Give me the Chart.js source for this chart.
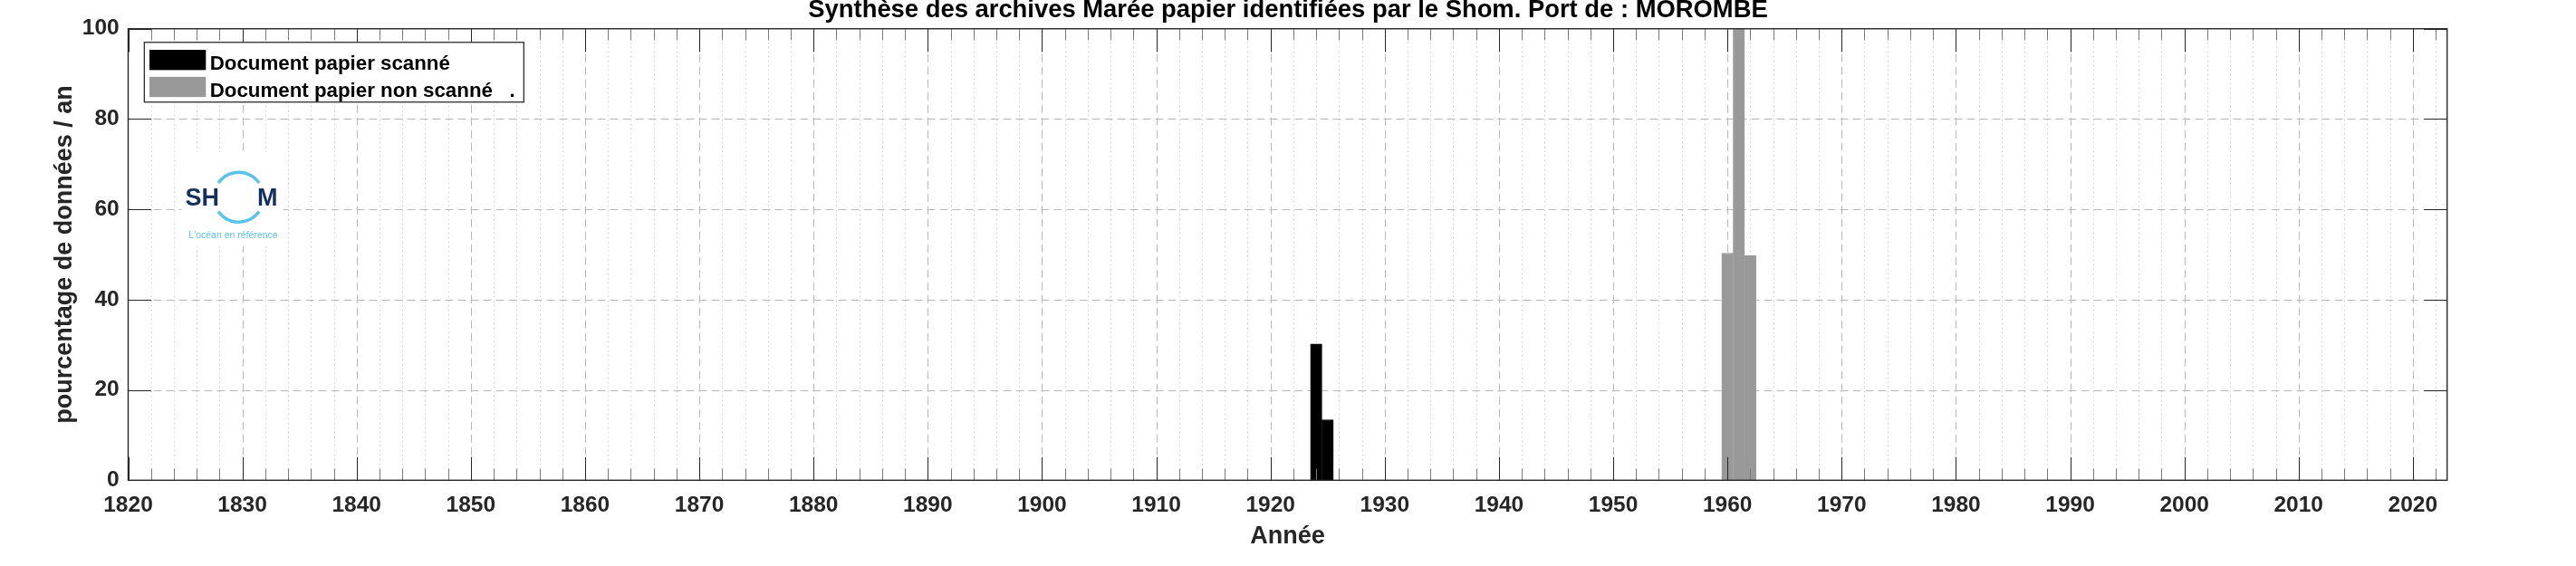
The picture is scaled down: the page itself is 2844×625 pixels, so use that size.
<!DOCTYPE html>
<html lang="fr">
<head>
<meta charset="utf-8">
<title>Synthèse des archives Marée papier - MOROMBE</title>
<script src="https://cdn.jsdelivr.net/npm/chart.js@4.4.1/dist/chart.umd.min.js"></script>
<style>
    html, body { margin: 0; padding: 0; background: #fff; overflow: hidden; }
    #wrap { position: relative; width: 2844px; height: 625px; }
</style>
</head>
<body>
<div id="wrap"><canvas id="myChart"></canvas></div>
<script>
const chartTitle = "Synthèse des archives Marée papier identifiées par le Shom. Port de : MOROMBE";
const xLabel = "Année";
const yLabel = "pourcentage de données / an";
const seriesNames = ["Document papier scanné", "Document papier non scanné   ."];

// percentage of data per year
const scannedYears = [1924, 1925];
const scannedPct = [30.2, 13.4];
const unscannedYears = [1960, 1961, 1962];
const unscannedPct = [50.3, 100, 49.8];

const xTicks = [1820, 1830, 1840, 1850, 1860, 1870, 1880, 1890, 1900, 1910, 1920,
                1930, 1940, 1950, 1960, 1970, 1980, 1990, 2000, 2010, 2020];
const yTicks = [0, 20, 40, 60, 80, 100];
const xMin = 1820;
const xMax = 2023;
const xMinorStep = 2;

const FONT = '"Liberation Sans", Arial, Helvetica, sans-serif';
const AXIS_COLOR = "#262626";

function line(ctx, x1, y1, x2, y2) {
    ctx.beginPath();
    ctx.moveTo(x1, y1);
    ctx.lineTo(x2, y2);
    ctx.stroke();
}

function drawLogo(ctx, cx, cy) {
    ctx.save();
    ctx.fillStyle = "#ffffff";
    ctx.fillRect(cx - 63, cy - 50, 112, 104);

    ctx.strokeStyle = "#5ac3ea";
    ctx.lineWidth = 3.5;
    ctx.beginPath();
    ctx.arc(cx, cy, 27.5, Math.PI * 215 / 180, Math.PI * 325 / 180);
    ctx.stroke();
    ctx.beginPath();
    ctx.arc(cx, cy, 27.5, Math.PI * 35 / 180, Math.PI * 145 / 180);
    ctx.stroke();

    ctx.fillStyle = "#13305f";
    ctx.font = "bold 27px " + FONT;
    ctx.textBaseline = "alphabetic";
    ctx.textAlign = "left";
    ctx.fillText("SH", cx - 59, cy + 9.3);
    ctx.fillText("M", cx + 20.5, cy + 9.3);

    ctx.fillStyle = "#5cc1ea";
    ctx.font = "10.5px " + FONT;
    ctx.textAlign = "center";
    ctx.fillText("L'océan en référence", cx - 6, cy + 45);
    ctx.restore();
}

const matlabAxes = {
    id: "matlabAxes",
    beforeDatasetsDraw(chart) {
        const { ctx, chartArea: a, scales: { x, y } } = chart;
        ctx.save();
        ctx.lineWidth = 1;

        // minor grid, dotted
        ctx.strokeStyle = "#cccccc";
        ctx.setLineDash([1.5, 3.5]);
        for (let v = xMin + xMinorStep; v < xMax; v += xMinorStep) {
            if (xTicks.includes(v)) continue;
            const px = Math.round(x.getPixelForValue(v)) + 0.5;
            line(ctx, px, a.top, px, a.bottom);
        }

        // major grid, dashed
        ctx.strokeStyle = "#b8b8b8";
        ctx.setLineDash([9, 5]);
        xTicks.forEach(v => {
            if (v <= xMin || v >= xMax) return;
            const px = Math.round(x.getPixelForValue(v)) + 0.5;
            line(ctx, px, a.top, px, a.bottom);
        });
        yTicks.forEach(v => {
            if (v <= 0 || v >= 100) return;
            const py = Math.round(y.getPixelForValue(v)) + 0.5;
            line(ctx, a.left, py, a.right, py);
        });
        ctx.restore();

        drawLogo(ctx, a.left + 122, a.top + 186);
    },
    afterDatasetsDraw(chart) {
        const { ctx, chartArea: a, scales: { x, y } } = chart;
        const major = 25.6, minor = 12.8;
        ctx.save();
        ctx.setLineDash([]);
        ctx.lineWidth = 1;

        // minor ticks, bottom and top
        ctx.strokeStyle = "#7a7a7a";
        for (let v = xMin + xMinorStep; v < xMax; v += xMinorStep) {
            if (xTicks.includes(v)) continue;
            const px = Math.round(x.getPixelForValue(v)) + 0.5;
            line(ctx, px, a.bottom, px, a.bottom - minor);
            line(ctx, px, a.top, px, a.top + minor);
        }

        // major ticks
        ctx.strokeStyle = AXIS_COLOR;
        xTicks.forEach(v => {
            const px = Math.round(x.getPixelForValue(v)) + 0.5;
            line(ctx, px, a.bottom, px, a.bottom - major);
            line(ctx, px, a.top, px, a.top + major);
        });
        yTicks.forEach(v => {
            const py = Math.round(y.getPixelForValue(v)) + 0.5;
            line(ctx, a.left, py, a.left + major, py);
            line(ctx, a.right, py, a.right - major, py);
        });

        // box
        ctx.lineWidth = 1.4;
        ctx.strokeRect(a.left, a.top, a.right - a.left, a.bottom - a.top);

        // legend
        const lx = a.left + 17.8, ly = a.top + 15, lw = 419, lh = 66;
        ctx.fillStyle = "#ffffff";
        ctx.fillRect(lx, ly, lw, lh);
        ctx.lineWidth = 1.2;
        ctx.strokeStyle = "#1a1a1a";
        ctx.strokeRect(lx, ly, lw, lh);
        ctx.font = "bold 22.3px " + FONT;
        ctx.textAlign = "left";
        ctx.textBaseline = "alphabetic";
        chart.data.datasets.forEach((ds, i) => {
            const rowY = ly + 19.4 + i * 29.8;
            ctx.fillStyle = ds.backgroundColor;
            ctx.fillRect(lx + 5.7, rowY - 11.1, 62.3, 22.3);
            ctx.fillStyle = "#000000";
            ctx.fillText(ds.label, lx + 72.4, rowY + 10.6);
        });
        ctx.restore();
    }
};

const ctx = document.getElementById("myChart").getContext("2d");

new Chart(ctx, {
    type: "bar",
    data: {
        datasets: [{
            label: seriesNames[0],
            data: scannedYears.map((yr, i) => ({ x: yr, y: scannedPct[i] })),
            backgroundColor: "#000000",
            borderColor: "#000000",
            borderWidth: 1,
            grouped: false,
            barPercentage: 1,
            categoryPercentage: 1
        }, {
            label: seriesNames[1],
            data: unscannedYears.map((yr, i) => ({ x: yr, y: unscannedPct[i] })),
            backgroundColor: "#999999",
            borderColor: "#9d9d9d",
            borderWidth: 1,
            grouped: false,
            barPercentage: 1,
            categoryPercentage: 1
        }]
    },
    options: {
        responsive: true,
        maintainAspectRatio: false,
        animation: false,
        layout: { padding: 0 },
        plugins: {
            legend: { display: false },
            tooltip: { enabled: false },
            title: {
                display: true,
                text: chartTitle,
                color: "#000000",
                font: { family: FONT, size: 27.4, weight: "bold", lineHeight: 0.83 },
                padding: { top: 0, bottom: 9 }
            }
        },
        scales: {
            x: {
                type: "linear",
                min: xMin,
                max: xMax,
                offset: false,
                grid: { display: false, offset: false, drawTicks: false },
                border: { display: false },
                afterBuildTicks: s => { s.ticks = xTicks.map(v => ({ value: v })); },
                afterFit: s => { s.height = 94.7; },
                ticks: {
                    padding: 13.3,
                    color: AXIS_COLOR,
                    autoSkip: false,
                    maxRotation: 0,
                    font: { family: FONT, size: 24.5, weight: "bold" },
                    callback: v => String(v)
                },
                title: {
                    display: true,
                    text: xLabel,
                    color: AXIS_COLOR,
                    font: { family: FONT, size: 27, weight: "bold" },
                    padding: { top: 0, bottom: 16.5 }
                }
            },
            y: {
                min: 0,
                max: 100,
                grid: { display: false, drawTicks: false },
                border: { display: false },
                afterBuildTicks: s => { s.ticks = yTicks.map(v => ({ value: v })); },
                afterFit: s => { s.width = 141.5; },
                ticks: {
                    padding: 9.8,
                    color: AXIS_COLOR,
                    font: { family: FONT, size: 24.5, weight: "bold" },
                    callback: v => String(v)
                },
                title: {
                    display: true,
                    text: yLabel,
                    color: AXIS_COLOR,
                    font: { family: FONT, size: 27, weight: "bold" },
                    padding: { top: 55, bottom: 0 }
                }
            },
            // empty right-hand box, keeps the right margin so the title stays centred on the page
            yRight: {
                position: "right",
                min: 0,
                max: 100,
                grid: { display: false, drawTicks: false },
                border: { display: false },
                ticks: { display: false },
                afterFit: s => { s.width = 142.3; }
            }
        }
    },
    plugins: [matlabAxes]
});
</script>
</body>
</html>
